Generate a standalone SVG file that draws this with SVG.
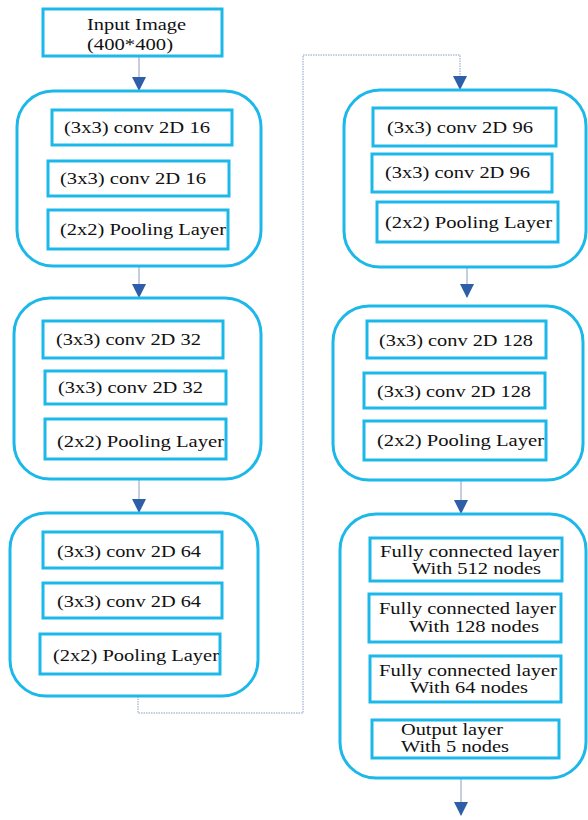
<svg xmlns="http://www.w3.org/2000/svg" width="588" height="820" viewBox="0 0 588 820">
<style>
.outer{fill:#fff;stroke:#1cb8ea;stroke-width:3}
.box{fill:#fff;stroke:#1cb8ea;stroke-width:3}
.t{font-family:"Liberation Serif","Times New Roman",serif;font-size:16px;fill:#111}
.con{fill:none;stroke:#8c9dc4;stroke-width:1}
.dot{stroke-dasharray:1.5,1}
</style>
<defs>
<marker id="ah" markerUnits="userSpaceOnUse" markerWidth="14" markerHeight="16" refX="13" refY="7" orient="auto">
<path d="M0,0 L14,7 L0,14 Z" fill="#2f5ea8"/>
</marker>
</defs>
<rect width="588" height="820" fill="#fff"/>
<g id="connectors">
<path class="con" d="M139,56 V90" marker-end="url(#ah)"/>
<path class="con" d="M139,266 V297" marker-end="url(#ah)"/>
<path class="con" d="M139,479 V512" marker-end="url(#ah)"/>
<path class="con dot" d="M138,696 V713 H303 V55 H460 V89" marker-end="url(#ah)"/>
<path class="con" d="M467,267 V297" marker-end="url(#ah)"/>
<path class="con" d="M461,480 V513" marker-end="url(#ah)"/>
<path class="con" d="M461,778 V815" marker-end="url(#ah)"/>
</g>
<g id="input">
<rect class="box" x="43" y="9" width="179" height="47"/>
<text class="t" x="87" y="30" textLength="99" lengthAdjust="spacingAndGlyphs">Input Image</text>
<text class="t" x="87" y="50" textLength="86" lengthAdjust="spacingAndGlyphs">(400*400)</text>
</g>
<g id="block1">
<rect class="outer" x="17" y="91" width="244" height="175" rx="36"/>
<rect class="box" x="52" y="110" width="180" height="35"/>
<text class="t" x="64" y="133" textLength="146" lengthAdjust="spacingAndGlyphs">(3x3) conv 2D 16</text>
<rect class="box" x="48" y="161" width="181" height="35"/>
<text class="t" x="60" y="184" textLength="146" lengthAdjust="spacingAndGlyphs">(3x3) conv 2D 16</text>
<rect class="box" x="48" y="210" width="180" height="39"/>
<text class="t" x="60" y="235" textLength="166" lengthAdjust="spacingAndGlyphs">(2x2) Pooling Layer</text>
</g>
<g id="block2">
<rect class="outer" x="14" y="298" width="247" height="181" rx="36"/>
<rect class="box" x="43" y="321" width="180" height="37"/>
<text class="t" x="56" y="345" textLength="145" lengthAdjust="spacingAndGlyphs">(3x3) conv 2D 32</text>
<rect class="box" x="45" y="371" width="181" height="33"/>
<text class="t" x="58" y="393" textLength="145" lengthAdjust="spacingAndGlyphs">(3x3) conv 2D 32</text>
<rect class="box" x="45" y="419" width="181" height="40"/>
<text class="t" x="57" y="447" textLength="167" lengthAdjust="spacingAndGlyphs">(2x2) Pooling Layer</text>
</g>
<g id="block3">
<rect class="outer" x="10" y="513" width="248" height="183" rx="36"/>
<rect class="box" x="43" y="532" width="179" height="36"/>
<text class="t" x="57" y="557" textLength="144" lengthAdjust="spacingAndGlyphs">(3x3) conv 2D 64</text>
<rect class="box" x="43" y="583" width="179" height="35"/>
<text class="t" x="57" y="607" textLength="144" lengthAdjust="spacingAndGlyphs">(3x3) conv 2D 64</text>
<rect class="box" x="40" y="634" width="180" height="40"/>
<text class="t" x="53" y="661" textLength="166" lengthAdjust="spacingAndGlyphs">(2x2) Pooling Layer</text>
</g>
<g id="block4">
<rect class="outer" x="344" y="90" width="242" height="177" rx="36"/>
<rect class="box" x="373" y="108" width="183" height="38"/>
<text class="t" x="387" y="133" textLength="146" lengthAdjust="spacingAndGlyphs">(3x3) conv 2D 96</text>
<rect class="box" x="372" y="154" width="180" height="38"/>
<text class="t" x="385" y="178" textLength="145" lengthAdjust="spacingAndGlyphs">(3x3) conv 2D 96</text>
<rect class="box" x="377" y="202" width="181" height="40"/>
<text class="t" x="385" y="228" textLength="167" lengthAdjust="spacingAndGlyphs">(2x2) Pooling Layer</text>
</g>
<g id="block5">
<rect class="outer" x="333" y="306" width="250" height="174" rx="36"/>
<rect class="box" x="367" y="321" width="179" height="37"/>
<text class="t" x="379" y="346" textLength="154" lengthAdjust="spacingAndGlyphs">(3x3) conv 2D 128</text>
<rect class="box" x="364" y="373" width="181" height="35"/>
<text class="t" x="377" y="397" textLength="154" lengthAdjust="spacingAndGlyphs">(3x3) conv 2D 128</text>
<rect class="box" x="364" y="421" width="182" height="39"/>
<text class="t" x="377" y="446" textLength="167" lengthAdjust="spacingAndGlyphs">(2x2) Pooling Layer</text>
</g>
<g id="block6">
<rect class="outer" x="340" y="514" width="246" height="264" rx="36"/>
<rect class="box" x="370" y="538" width="192" height="43"/>
<text class="t" x="380" y="557" textLength="179" lengthAdjust="spacingAndGlyphs">Fully connected layer</text>
<text class="t" x="412" y="574" textLength="129" lengthAdjust="spacingAndGlyphs">With 512 nodes</text>
<rect class="box" x="369" y="594" width="192" height="48"/>
<text class="t" x="379" y="614" textLength="177" lengthAdjust="spacingAndGlyphs">Fully connected layer</text>
<text class="t" x="409" y="632" textLength="130" lengthAdjust="spacingAndGlyphs">With 128 nodes</text>
<rect class="box" x="370" y="656" width="191" height="46"/>
<text class="t" x="379" y="676" textLength="178" lengthAdjust="spacingAndGlyphs">Fully connected layer</text>
<text class="t" x="410" y="693" textLength="118" lengthAdjust="spacingAndGlyphs">With 64 nodes</text>
<rect class="box" x="372" y="720" width="187" height="38"/>
<text class="t" x="401" y="735" textLength="102" lengthAdjust="spacingAndGlyphs">Output layer</text>
<text class="t" x="401" y="752" textLength="108" lengthAdjust="spacingAndGlyphs">With 5 nodes</text>
</g>
</svg>
